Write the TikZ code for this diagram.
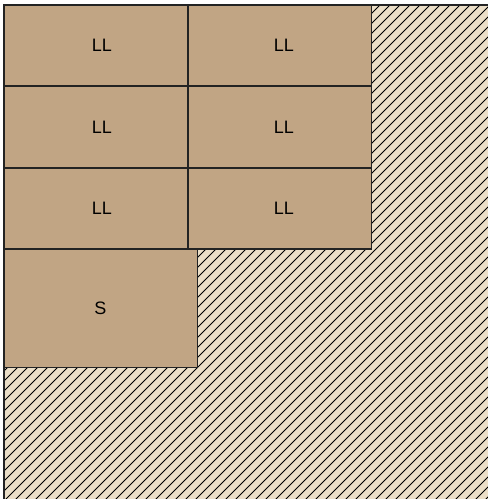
\documentclass[tikz,border=0pt]{standalone}
\usepackage{fontspec}
\setsansfont{Liberation Sans}
\usepackage{tikz}
\definecolor{tilebrown}{RGB}{193,165,132}
\definecolor{floorbeige}{RGB}{236,223,200}
\definecolor{edgegray}{RGB}{35,35,35}

\begin{document}
\begin{tikzpicture}[x=1pt,y=-1pt,
    tile/.style={fill=tilebrown,inner sep=0pt,
      font=\sffamily\fontsize{18}{20}\selectfont},
    tileedge/.style={draw=edgegray,line width=1.4pt}]
  \useasboundingbox (0,0) rectangle (488,499);
  % hatched floor, frame runs past the right and bottom edge
  \fill[floorbeige] (4,5) rectangle (494,505);
  \begin{scope}
    \clip (4,5) rectangle (494,505);
    \foreach \s in {0,10,...,1010}
      {\draw[line width=1pt] (\s-500,505) -- (\s,5);}
  \end{scope}
  \draw[edgegray,line width=1.6pt] (4,505) -- (4,5) -- (494,5);
  % tiles: 2 columns x 3 rows, then the S tile below
  \node[tile,minimum width=184pt,minimum height=81.3pt] (ll11) at (96,45.7)   {\hspace{12pt}LL};
  \node[tile,minimum width=183.5pt,minimum height=81.3pt] (ll12) at (279.8,45.7) {\hspace{8pt}LL};
  \node[tile,minimum width=184pt,minimum height=81.3pt] (ll21) at (96,127)    {\hspace{12pt}LL};
  \node[tile,minimum width=183.5pt,minimum height=81.3pt] (ll22) at (279.8,127) {\hspace{8pt}LL};
  \node[tile,minimum width=184pt,minimum height=81.3pt] (ll31) at (96,208.3)  {\hspace{12pt}LL};
  \node[tile,minimum width=183.5pt,minimum height=81.3pt] (ll32) at (279.8,208.3) {\hspace{8pt}LL};
  \node[tile,minimum width=193pt,minimum height=118pt] (s1) at (100.5,308)    {S};
  % outlines on top so shared edges keep full width
  \foreach \t in {ll11,ll12,ll21,ll22,ll31,ll32,s1}
    {\draw[tileedge] (\t.south west) rectangle (\t.north east);}
\end{tikzpicture}
\end{document}
